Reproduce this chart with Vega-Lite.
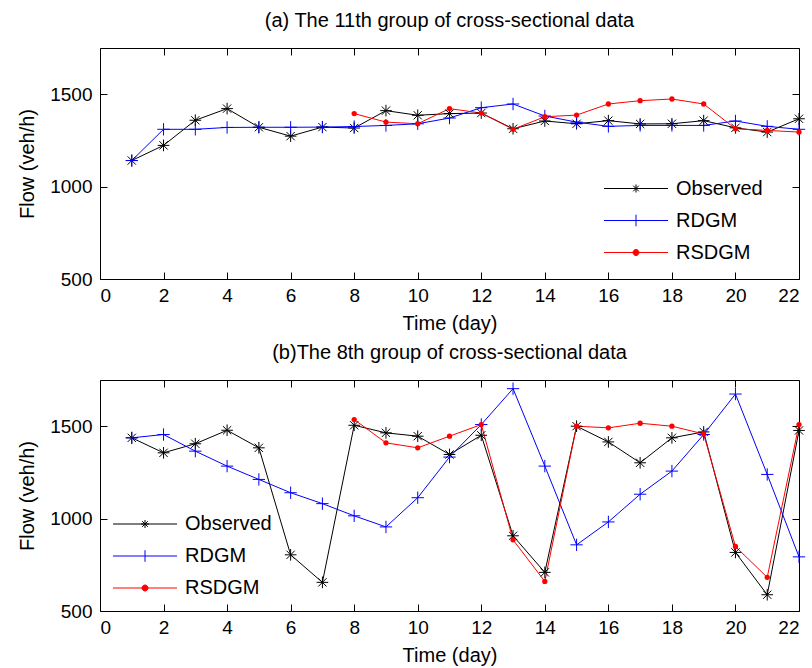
{
  "$schema": "https://vega.github.io/schema/vega-lite/v6.json",
  "padding": {"left": 17, "top": 10, "right": 2, "bottom": 5},
  "background": "white",
  "config": {
    "font": "Liberation Sans",
    "view": {"stroke": "black", "strokeWidth": 1},
    "axis": {
      "labelFont": "Liberation Sans", "labelFontSize": 19, "labelColor": "black",
      "titleFont": "Liberation Sans", "titleFontSize": 20, "titleFontWeight": "normal", "titleColor": "black",
      "tickColor": "black", "tickWidth": 1, "domain": false, "grid": false, "tickSize": -7, "format": "d"
    },
    "axisX": {"labelPadding": 14, "titlePadding": 8},
    "axisY": {"labelPadding": 15, "titlePadding": 12},
    "legend": {"labelFont": "Liberation Sans", "labelFontSize": 20, "labelColor": "black", "rowPadding": 11, "labelOffset": 51, "padding": 0, "symbolSize": 400},
    "title": {"font": "Liberation Sans", "fontSize": 20, "fontWeight": "normal", "color": "black", "frame": "group", "baseline": "alphabetic", "offset": 17},
    "concat": {"spacing": 8}
  },
  "datasets": {
    "a": [
      {"day":1,"series":"Observed","flow":1141},{"day":2,"series":"Observed","flow":1223},{"day":3,"series":"Observed","flow":1359},{"day":4,"series":"Observed","flow":1422},{"day":5,"series":"Observed","flow":1321},{"day":6,"series":"Observed","flow":1273},{"day":7,"series":"Observed","flow":1322},{"day":8,"series":"Observed","flow":1317},{"day":9,"series":"Observed","flow":1411},{"day":10,"series":"Observed","flow":1386},{"day":11,"series":"Observed","flow":1395},{"day":12,"series":"Observed","flow":1398},{"day":13,"series":"Observed","flow":1313},{"day":14,"series":"Observed","flow":1355},{"day":15,"series":"Observed","flow":1340},{"day":16,"series":"Observed","flow":1357},{"day":17,"series":"Observed","flow":1339},{"day":18,"series":"Observed","flow":1340},{"day":19,"series":"Observed","flow":1357},{"day":20,"series":"Observed","flow":1318},{"day":21,"series":"Observed","flow":1295},{"day":22,"series":"Observed","flow":1367},
      {"day":1,"series":"RDGM","flow":1141},{"day":2,"series":"RDGM","flow":1310},{"day":3,"series":"RDGM","flow":1310},{"day":4,"series":"RDGM","flow":1320},{"day":5,"series":"RDGM","flow":1321},{"day":6,"series":"RDGM","flow":1321},{"day":7,"series":"RDGM","flow":1322},{"day":8,"series":"RDGM","flow":1325},{"day":9,"series":"RDGM","flow":1331},{"day":10,"series":"RDGM","flow":1340},{"day":11,"series":"RDGM","flow":1371},{"day":12,"series":"RDGM","flow":1427},{"day":13,"series":"RDGM","flow":1447},{"day":14,"series":"RDGM","flow":1382},{"day":15,"series":"RDGM","flow":1349},{"day":16,"series":"RDGM","flow":1326},{"day":17,"series":"RDGM","flow":1331},{"day":18,"series":"RDGM","flow":1331},{"day":19,"series":"RDGM","flow":1331},{"day":20,"series":"RDGM","flow":1355},{"day":21,"series":"RDGM","flow":1326},{"day":22,"series":"RDGM","flow":1310},
      {"day":8,"series":"RSDGM","flow":1395},{"day":9,"series":"RSDGM","flow":1349},{"day":10,"series":"RSDGM","flow":1340},{"day":11,"series":"RSDGM","flow":1422},{"day":12,"series":"RSDGM","flow":1398},{"day":13,"series":"RSDGM","flow":1310},{"day":14,"series":"RSDGM","flow":1378},{"day":15,"series":"RSDGM","flow":1387},{"day":16,"series":"RSDGM","flow":1447},{"day":17,"series":"RSDGM","flow":1465},{"day":18,"series":"RSDGM","flow":1474},{"day":19,"series":"RSDGM","flow":1447},{"day":20,"series":"RSDGM","flow":1313},{"day":21,"series":"RSDGM","flow":1304},{"day":22,"series":"RSDGM","flow":1295}
    ],
    "b": [
      {"day":1,"series":"Observed","flow":1437},{"day":2,"series":"Observed","flow":1356},{"day":3,"series":"Observed","flow":1405},{"day":4,"series":"Observed","flow":1478},{"day":5,"series":"Observed","flow":1383},{"day":6,"series":"Observed","flow":804},{"day":7,"series":"Observed","flow":655},{"day":8,"series":"Observed","flow":1505},{"day":9,"series":"Observed","flow":1464},{"day":10,"series":"Observed","flow":1446},{"day":11,"series":"Observed","flow":1347},{"day":12,"series":"Observed","flow":1451},{"day":13,"series":"Observed","flow":907},{"day":14,"series":"Observed","flow":709},{"day":15,"series":"Observed","flow":1500},{"day":16,"series":"Observed","flow":1415},{"day":17,"series":"Observed","flow":1302},{"day":18,"series":"Observed","flow":1437},{"day":19,"series":"Observed","flow":1469},{"day":20,"series":"Observed","flow":817},{"day":21,"series":"Observed","flow":588},{"day":22,"series":"Observed","flow":1477},
      {"day":1,"series":"RDGM","flow":1437},{"day":2,"series":"RDGM","flow":1455},{"day":3,"series":"RDGM","flow":1365},{"day":4,"series":"RDGM","flow":1284},{"day":5,"series":"RDGM","flow":1212},{"day":6,"series":"RDGM","flow":1140},{"day":7,"series":"RDGM","flow":1081},{"day":8,"series":"RDGM","flow":1015},{"day":9,"series":"RDGM","flow":955},{"day":10,"series":"RDGM","flow":1113},{"day":11,"series":"RDGM","flow":1333},{"day":12,"series":"RDGM","flow":1509},{"day":13,"series":"RDGM","flow":1703},{"day":14,"series":"RDGM","flow":1284},{"day":15,"series":"RDGM","flow":858},{"day":16,"series":"RDGM","flow":982},{"day":17,"series":"RDGM","flow":1132},{"day":18,"series":"RDGM","flow":1257},{"day":19,"series":"RDGM","flow":1455},{"day":20,"series":"RDGM","flow":1674},{"day":21,"series":"RDGM","flow":1239},{"day":22,"series":"RDGM","flow":793},
      {"day":8,"series":"RSDGM","flow":1536},{"day":9,"series":"RSDGM","flow":1410},{"day":10,"series":"RSDGM","flow":1383},{"day":11,"series":"RSDGM","flow":1446},{"day":12,"series":"RSDGM","flow":1509},{"day":13,"series":"RSDGM","flow":885},{"day":14,"series":"RSDGM","flow":660},{"day":15,"series":"RSDGM","flow":1500},{"day":16,"series":"RSDGM","flow":1491},{"day":17,"series":"RSDGM","flow":1516},{"day":18,"series":"RSDGM","flow":1500},{"day":19,"series":"RSDGM","flow":1458},{"day":20,"series":"RSDGM","flow":849},{"day":21,"series":"RSDGM","flow":682},{"day":22,"series":"RSDGM","flow":1509}
    ]
  },
  "resolve": {"scale": {"color": "independent"}, "legend": {"color": "independent"}},
  "vconcat": [
    {
      "title": {"text": "(a) The 11th group of cross-sectional data"},
      "width": 699, "height": 231,
      "data": {"name": "a"},
      "resolve": {"axis": {"x": "independent", "y": "independent"}},
      "layer": [
        {
          "mark": {"type": "line", "strokeWidth": 1},
          "encoding": {
            "x": {"field": "day", "type": "quantitative", "scale": {"domain": [0, 22], "nice": false}, "axis": {"orient": "bottom", "values": [0,2,4,6,8,10,12,14,16,18,20,22], "title": "Time (day)"}},
            "y": {"field": "flow", "type": "quantitative", "scale": {"domain": [500, 1750], "nice": false, "zero": false}, "axis": {"orient": "left", "values": [500,1000,1500], "title": "Flow (veh/h)"}},
            "color": {"field": "series", "type": "nominal", "scale": {"domain": ["Observed","RDGM","RSDGM"], "range": ["#000000","#0000ff","#ff0000"]},
              "legend": {"title": null, "orient": "none", "legendX": 504, "legendY": 130,
                "encode": {"symbols": {"update": {
                  "shape": {"signal": "datum.value === 'Observed' ? 'M-1.05,0H5.35M1.75,0H2.55M2.15,-0.4V0.4M1.87,-0.28L2.43,0.28M1.87,0.28L2.43,-0.28' : datum.value === 'RDGM' ? 'M-1.05,0H5.35M2.15,-0.58V0.58' : 'M-1.05,0H5.35M2.45,0A0.3,0.3 0 1,1 1.85,0A0.3,0.3 0 1,1 2.45,0Z'"},
                  "stroke": {"signal": "datum.value === 'Observed' ? '#000000' : datum.value === 'RDGM' ? '#0000ff' : '#ff0000'"},
                  "fill": {"signal": "datum.value === 'Observed' ? '#000000' : datum.value === 'RDGM' ? '#0000ff' : '#ff0000'"},
                  "strokeWidth": {"value": 1}, "opacity": {"value": 1}}}}}}
          }
        },
        {
          "transform": [{"filter": "datum.series === 'Observed'"}],
          "mark": {"type": "point", "filled": false, "stroke": "#000000", "strokeWidth": 1, "opacity": 1, "size": 144, "shape": "M-0.97,0H0.97M0,-0.97V0.97M-0.69,-0.69L0.69,0.69M-0.69,0.69L0.69,-0.69"},
          "encoding": {
            "x": {"field": "day", "type": "quantitative", "scale": {"domain": [0, 22], "nice": false}, "axis": {"orient": "top", "values": [0,2,4,6,8,10,12,14,16,18,20,22], "labels": false, "title": null}},
            "y": {"field": "flow", "type": "quantitative", "scale": {"domain": [500, 1750], "nice": false, "zero": false}, "axis": {"orient": "right", "values": [500,1000,1500], "labels": false, "title": null}}
          }
        },
        {
          "transform": [{"filter": "datum.series === 'RDGM'"}],
          "mark": {"type": "point", "filled": false, "stroke": "#0000ff", "strokeWidth": 1, "opacity": 1, "size": 144, "shape": "M-1.03,0H1.03M0,-1.03V1.03"},
          "encoding": {
            "x": {"field": "day", "type": "quantitative", "axis": null},
            "y": {"field": "flow", "type": "quantitative", "axis": null}
          }
        },
        {
          "transform": [{"filter": "datum.series === 'RSDGM'"}],
          "mark": {"type": "point", "filled": true, "fill": "#ff0000", "opacity": 1, "size": 28, "shape": "circle"},
          "encoding": {
            "x": {"field": "day", "type": "quantitative", "axis": null},
            "y": {"field": "flow", "type": "quantitative", "axis": null}
          }
        }
      ]
    },
    {
      "title": {"text": "(b)The 8th group of cross-sectional data"},
      "width": 699, "height": 231,
      "data": {"name": "b"},
      "resolve": {"axis": {"x": "independent", "y": "independent"}},
      "layer": [
        {
          "mark": {"type": "line", "strokeWidth": 1},
          "encoding": {
            "x": {"field": "day", "type": "quantitative", "scale": {"domain": [0, 22], "nice": false}, "axis": {"orient": "bottom", "values": [0,2,4,6,8,10,12,14,16,18,20,22], "title": "Time (day)"}},
            "y": {"field": "flow", "type": "quantitative", "scale": {"domain": [500, 1750], "nice": false, "zero": false}, "axis": {"orient": "left", "values": [500,1000,1500], "title": "Flow (veh/h)"}},
            "color": {"field": "series", "type": "nominal", "scale": {"domain": ["Observed","RDGM","RSDGM"], "range": ["#000000","#0000ff","#ff0000"]},
              "legend": {"title": null, "orient": "none", "legendX": 13, "legendY": 133.5,
                "encode": {"symbols": {"update": {
                  "shape": {"signal": "datum.value === 'Observed' ? 'M-1.05,0H5.35M1.75,0H2.55M2.15,-0.4V0.4M1.87,-0.28L2.43,0.28M1.87,0.28L2.43,-0.28' : datum.value === 'RDGM' ? 'M-1.05,0H5.35M2.15,-0.58V0.58' : 'M-1.05,0H5.35M2.45,0A0.3,0.3 0 1,1 1.85,0A0.3,0.3 0 1,1 2.45,0Z'"},
                  "stroke": {"signal": "datum.value === 'Observed' ? '#000000' : datum.value === 'RDGM' ? '#0000ff' : '#ff0000'"},
                  "fill": {"signal": "datum.value === 'Observed' ? '#000000' : datum.value === 'RDGM' ? '#0000ff' : '#ff0000'"},
                  "strokeWidth": {"value": 1}, "opacity": {"value": 1}}}}}}
          }
        },
        {
          "transform": [{"filter": "datum.series === 'Observed'"}],
          "mark": {"type": "point", "filled": false, "stroke": "#000000", "strokeWidth": 1, "opacity": 1, "size": 144, "shape": "M-0.97,0H0.97M0,-0.97V0.97M-0.69,-0.69L0.69,0.69M-0.69,0.69L0.69,-0.69"},
          "encoding": {
            "x": {"field": "day", "type": "quantitative", "scale": {"domain": [0, 22], "nice": false}, "axis": {"orient": "top", "values": [0,2,4,6,8,10,12,14,16,18,20,22], "labels": false, "title": null}},
            "y": {"field": "flow", "type": "quantitative", "scale": {"domain": [500, 1750], "nice": false, "zero": false}, "axis": {"orient": "right", "values": [500,1000,1500], "labels": false, "title": null}}
          }
        },
        {
          "transform": [{"filter": "datum.series === 'RDGM'"}],
          "mark": {"type": "point", "filled": false, "stroke": "#0000ff", "strokeWidth": 1, "opacity": 1, "size": 144, "shape": "M-1.03,0H1.03M0,-1.03V1.03"},
          "encoding": {
            "x": {"field": "day", "type": "quantitative", "axis": null},
            "y": {"field": "flow", "type": "quantitative", "axis": null}
          }
        },
        {
          "transform": [{"filter": "datum.series === 'RSDGM'"}],
          "mark": {"type": "point", "filled": true, "fill": "#ff0000", "opacity": 1, "size": 28, "shape": "circle"},
          "encoding": {
            "x": {"field": "day", "type": "quantitative", "axis": null},
            "y": {"field": "flow", "type": "quantitative", "axis": null}
          }
        }
      ]
    }
  ]
}
